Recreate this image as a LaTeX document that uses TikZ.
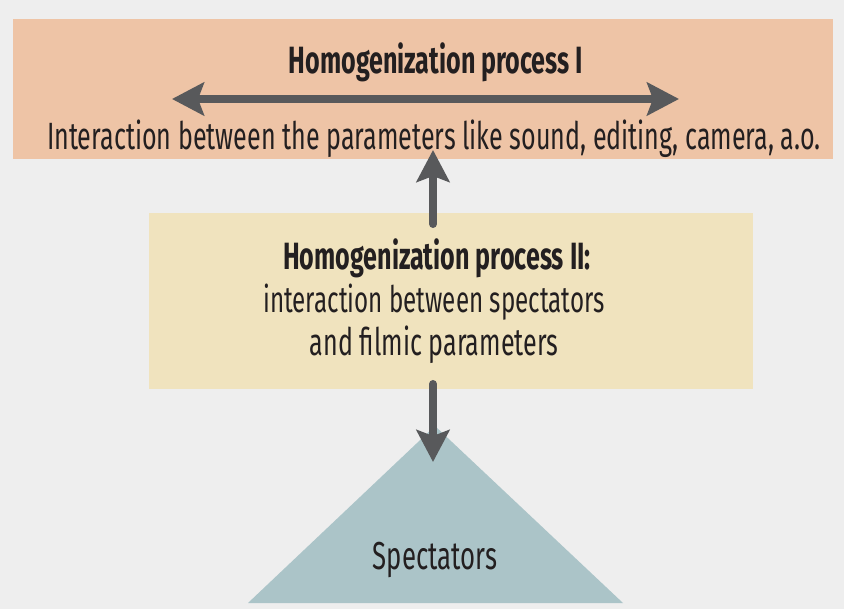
\documentclass[tikz,border=0pt]{standalone}
\usepackage{fontspec}
\setmainfont{Fira Sans}[FakeStretch=0.66]
\usetikzlibrary{arrows.meta}
\definecolor{bgc}{HTML}{EEEEEE}
\definecolor{topc}{HTML}{EEC4A6}
\definecolor{midc}{HTML}{F0E3BE}
\definecolor{tric}{HTML}{ABC4C8}
\definecolor{arrc}{HTML}{58595B}
\definecolor{txtc}{HTML}{231F20}
\tikzset{
  lbl/.style={anchor=base, inner sep=0pt, text=txtc, font=\fontsize{38}{44}\selectfont},
  ttl/.style={lbl, font=\fontsize{38}{44}\selectfont\bfseries},
  conn/.style={draw=arrc, line width=8pt, line cap=round,
    -{Stealth[length=32pt,width=33pt,inset=6pt]}},
}
\begin{document}
\begin{tikzpicture}[x=1pt,y=-1pt]
\useasboundingbox (0,0) rectangle (844,609);
\fill[bgc] (0,0) rectangle (844,609);
% boxes
\fill[topc] (13,19) rectangle (833,159);
\fill[midc] (149,213) rectangle (753,389);
\fill[tric] (435,426) -- (623,603) -- (248,603) -- cycle;
% texts
\node[ttl] (t1) at (436,74) {Homogenization process I};
\node[lbl] (t2) at (434,150) {Interaction between the parameters like sound, editing, camera, a.o.};
\node[ttl] (m1) at (437,270) {Homogenization process II:};
\node[lbl, font=\fontsize{36.6}{44}\selectfont] (m2) at (434,313) {interaction between spectators};
\node[lbl] (m3) at (434,356) {and filmic parameters};
\node[lbl, font=\fontsize{39}{44}\selectfont] (sp) at (435,569) {Spectators};
% connector end points
\coordinate (la) at (172,99);
\coordinate (ra) at (679,99);
\coordinate (ub) at (433,224);
\coordinate (ut) at (433,150);
\coordinate (db) at (433,384);
\coordinate (dt) at (433,462);
\draw[conn, {Stealth[length=32pt,width=33pt,inset=6pt]}-{Stealth[length=32pt,width=33pt,inset=6pt]}, line cap=butt] (la) -- (ra);
\draw[conn] (ub) -- (ut);
\draw[conn] (db) -- (dt);
\end{tikzpicture}
\end{document}
